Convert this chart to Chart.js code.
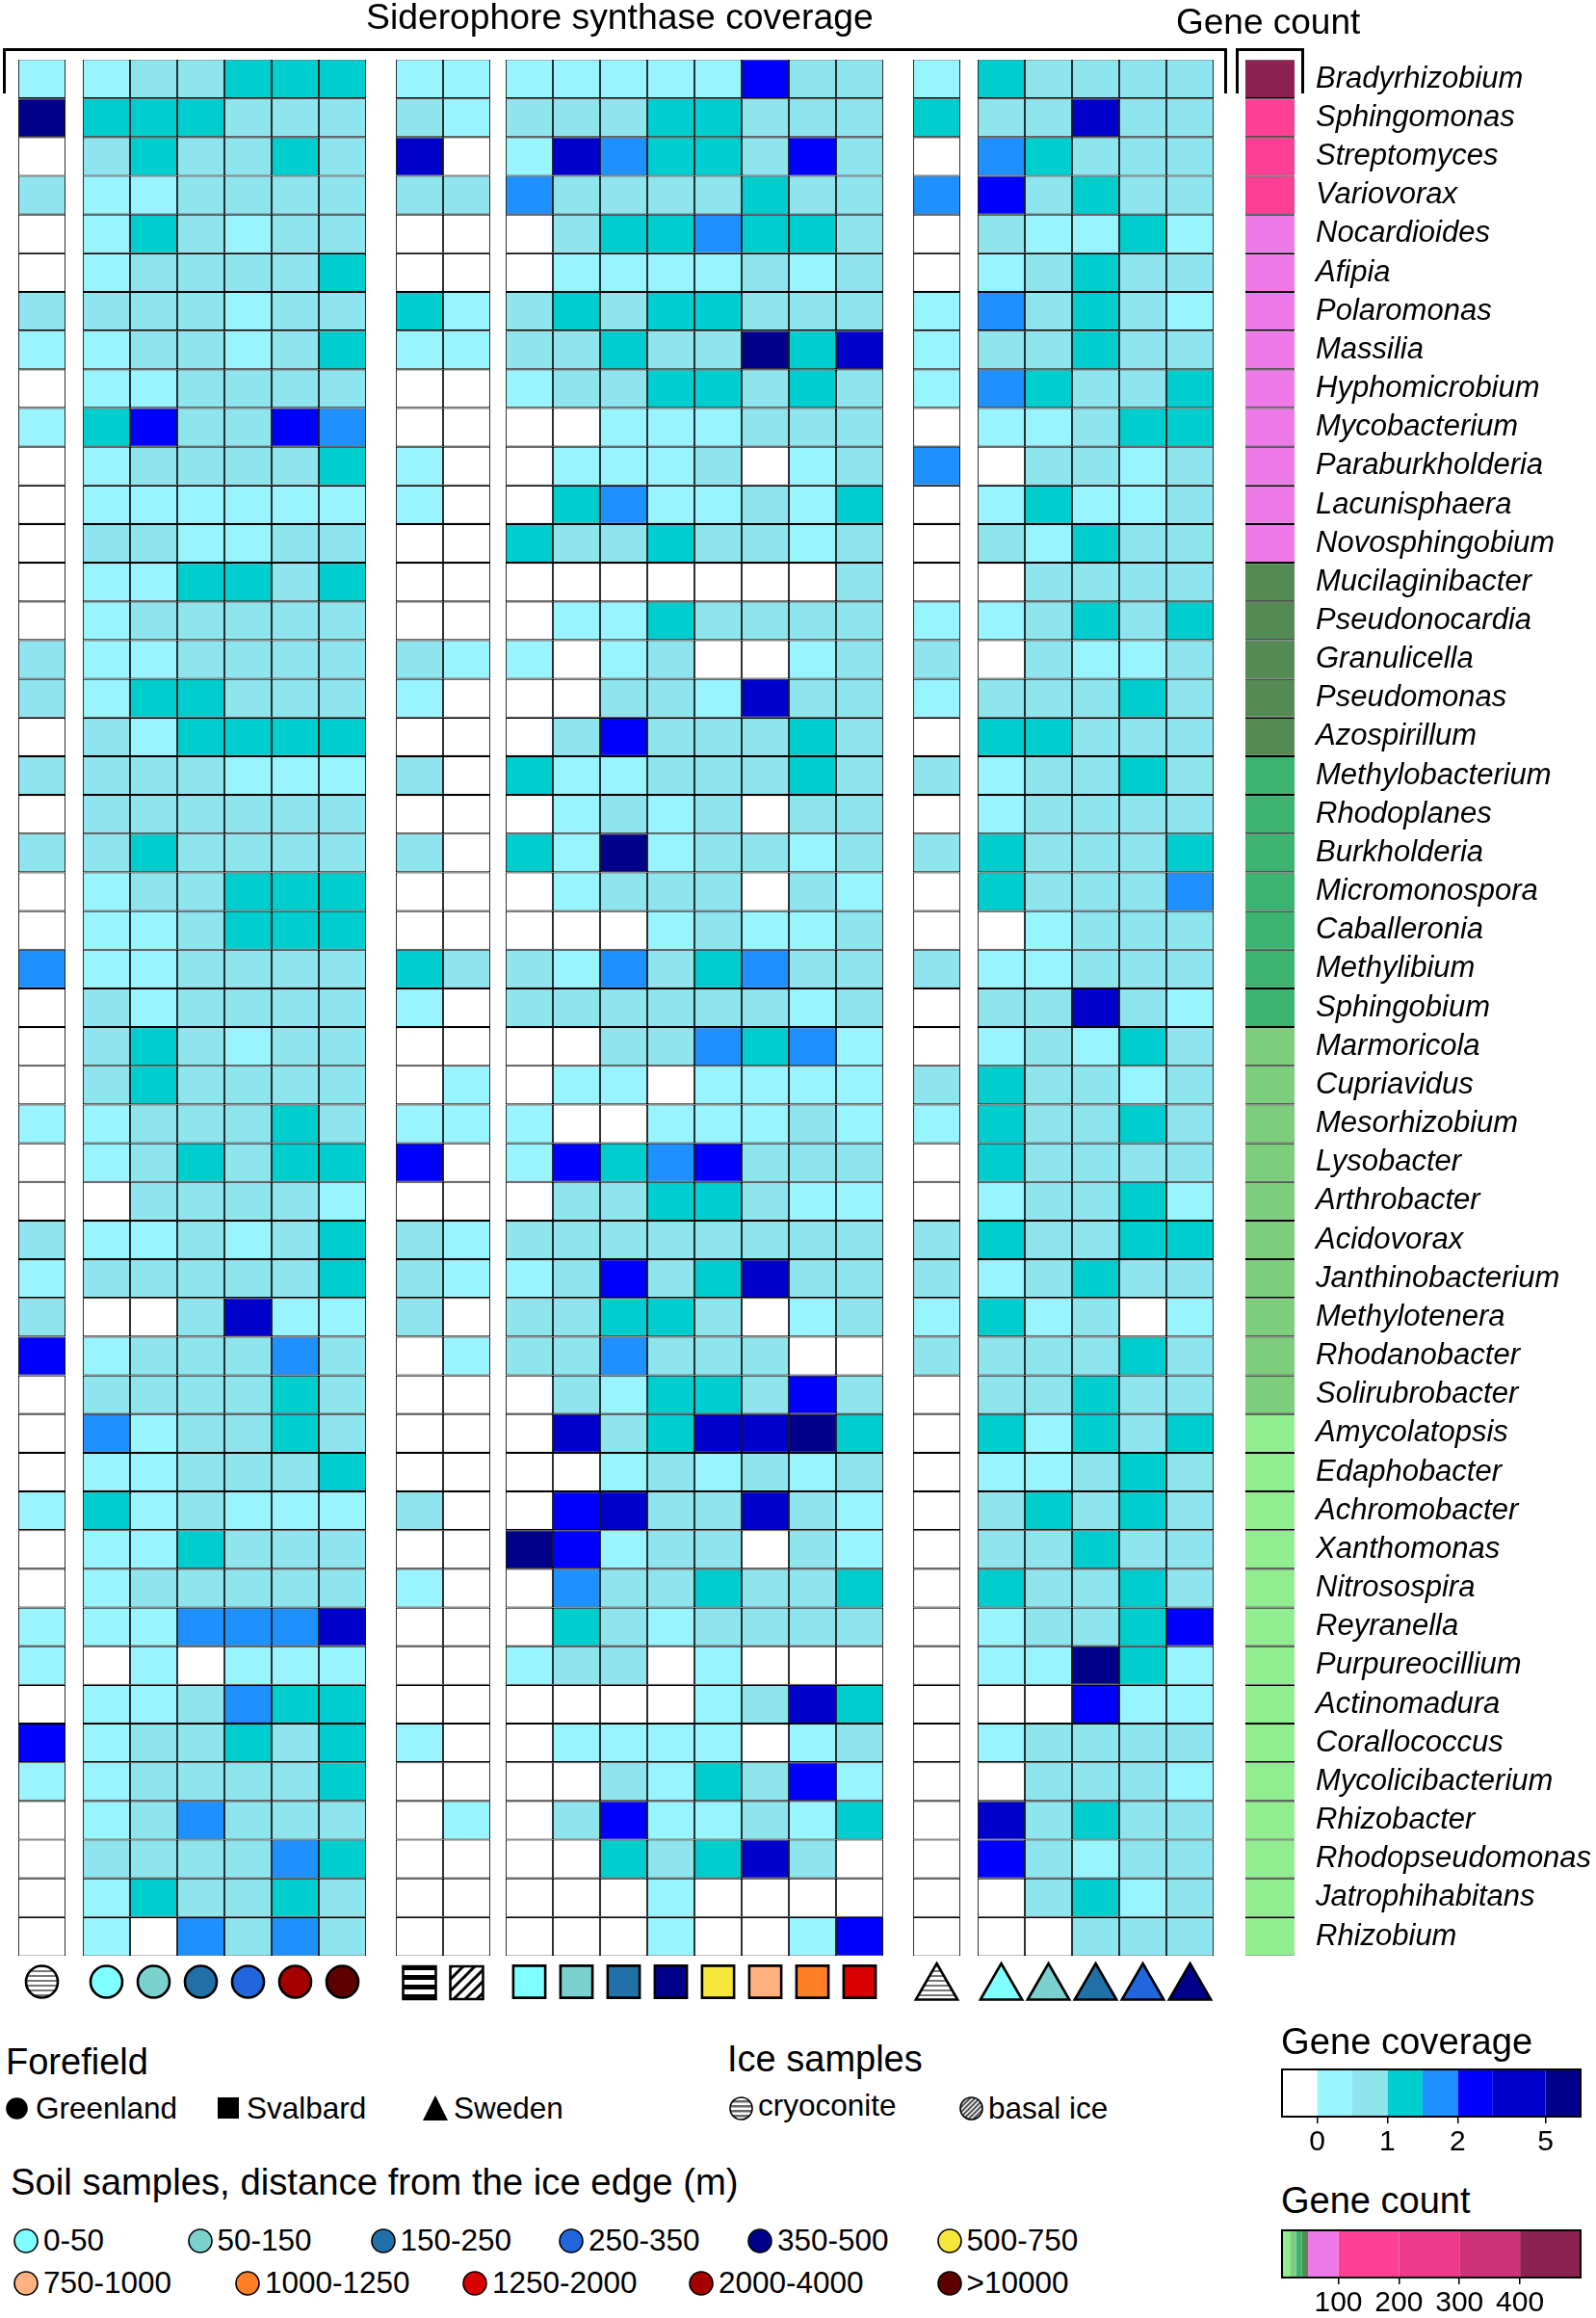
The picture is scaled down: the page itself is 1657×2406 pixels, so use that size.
<!DOCTYPE html>
<html>
<head>
<meta charset="utf-8">
<title>Siderophore synthase coverage</title>
<script src="https://cdn.jsdelivr.net/npm/chart.js@4"></script>
<style>
    html, body { margin: 0; padding: 0; background: #fff; }
    #page { position: relative; width: 1657px; height: 2406px; overflow: hidden; font-family: "Liberation Sans", Arial, sans-serif; color: #000; }
    #page canvas { position: absolute; display: block; }
    .txt { position: absolute; white-space: nowrap; line-height: 1; }
    .bracket { position: absolute; border: 3px solid #000; border-bottom: 0; box-sizing: border-box; }
    .mark { position: absolute; overflow: visible; }
</style>
</head>
<body>
<div id="page">
    <canvas id="heatmap" width="1657" height="2090" style="left:0;top:0"></canvas>
    <canvas id="markers" width="1657" height="70" style="left:0;top:2030px"></canvas>
    <canvas id="coverageBar" width="357" height="100" style="left:1300px;top:2140px"></canvas>
    <canvas id="countBar" width="357" height="100" style="left:1300px;top:2307px"></canvas>
    <div class="bracket" style="left:3px;top:50px;width:1271px;height:47px"></div>
    <div class="bracket" style="left:1283px;top:50px;width:71px;height:47px"></div>
</div>
<script>
// genera, top to bottom
const genera = ["Bradyrhizobium", "Sphingomonas", "Streptomyces", "Variovorax", "Nocardioides", "Afipia", "Polaromonas", "Massilia", "Hyphomicrobium", "Mycobacterium",
    "Paraburkholderia", "Lacunisphaera", "Novosphingobium", "Mucilaginibacter", "Pseudonocardia", "Granulicella", "Pseudomonas", "Azospirillum", "Methylobacterium", "Rhodoplanes",
    "Burkholderia", "Micromonospora", "Caballeronia", "Methylibium", "Sphingobium", "Marmoricola", "Cupriavidus", "Mesorhizobium", "Lysobacter", "Arthrobacter",
    "Acidovorax", "Janthinobacterium", "Methylotenera", "Rhodanobacter", "Solirubrobacter", "Amycolatopsis", "Edaphobacter", "Achromobacter", "Xanthomonas", "Nitrosospira",
    "Reyranella", "Purpureocillium", "Actinomadura", "Corallococcus", "Mycolicibacterium", "Rhizobacter", "Rhodopseudomonas", "Jatrophihabitans", "Rhizobium"];

// coverage class of each cell (0 = none ... 7 = highest), one line per genus
const cryoconiteGreenland = [1, 7, 0, 2, 0, 0, 2, 1, 0, 1, 0, 0, 0, 0, 0, 2, 2, 0, 2, 0, 2, 0, 0, 4, 0, 0, 0, 1, 0, 0, 2, 1, 2, 5, 0, 0, 0, 1, 0, 0, 1, 1, 0, 5, 1, 0, 0, 0, 0];

const soilGreenland = [
    [1,2,2,3,3,3], [3,3,3,2,2,2], [2,3,2,2,3,2], [1,1,2,2,2,2], [1,3,2,1,2,2], [1,2,2,2,2,3], [2,2,2,1,2,2], [1,2,2,1,2,3], [1,1,2,2,2,2], [3,5,2,2,5,4],
    [1,2,2,2,2,3], [1,1,1,1,1,1], [2,2,1,1,2,2], [1,1,3,3,2,3], [1,2,2,2,2,2], [1,1,2,2,2,2], [1,3,3,2,2,2], [2,1,3,3,3,3], [2,2,2,1,1,1], [2,2,2,2,2,2],
    [2,3,2,2,2,2], [1,2,2,3,3,3], [1,1,2,3,3,3], [1,1,2,2,2,2], [2,1,2,2,2,2], [2,3,2,1,2,2], [2,3,2,2,2,2], [1,2,2,2,3,2], [1,2,3,2,3,3], [0,2,2,2,2,1],
    [1,1,2,1,2,3], [2,2,2,2,2,3], [0,0,2,6,1,1], [1,2,2,2,4,2], [2,2,2,2,3,2], [4,1,2,2,3,2], [1,1,2,2,2,3], [3,1,2,1,1,1], [1,1,3,2,2,2], [1,2,2,2,2,2],
    [1,1,4,4,4,6], [0,1,0,1,1,1], [1,1,2,4,3,3], [1,2,2,3,2,3], [1,2,2,2,2,3], [1,2,4,2,2,2], [2,2,2,2,4,3], [1,3,2,2,3,2], [1,0,4,2,4,2]
];

const iceSvalbard = [
    [1,1], [2,1], [6,0], [2,2], [0,0], [0,0], [3,1], [1,1], [0,0], [0,0],
    [1,0], [1,0], [0,0], [0,0], [0,0], [2,1], [1,0], [0,0], [2,0], [0,0],
    [2,0], [0,0], [0,0], [3,2], [1,0], [0,0], [0,1], [1,1], [5,0], [0,0],
    [2,1], [2,1], [2,0], [0,1], [0,0], [0,0], [0,0], [2,0], [0,0], [1,0],
    [0,0], [0,0], [0,0], [1,0], [0,0], [0,1], [0,0], [0,0], [0,0]
];

const soilSvalbard = [
    [1,1,1,1,1,5,2,2], [2,2,2,3,3,2,2,2], [1,6,4,3,3,2,5,2], [4,2,2,2,2,3,2,2], [0,2,3,3,4,3,3,2], [0,1,1,1,1,2,1,2], [2,3,2,3,3,2,2,2], [2,2,3,2,2,7,3,6], [1,2,2,3,3,2,3,2], [0,0,1,1,1,2,2,2],
    [0,1,1,1,2,0,1,2], [0,3,4,1,1,2,1,3], [3,2,2,3,2,2,1,2], [0,0,0,0,0,0,0,2], [0,1,1,3,2,2,2,2], [1,0,1,2,0,0,1,2], [0,0,2,2,1,6,2,2], [0,2,5,2,2,2,3,2], [3,1,1,2,2,2,3,2], [0,1,2,1,2,0,2,2],
    [3,1,7,1,2,2,1,2], [0,1,2,2,2,0,2,1], [0,0,0,1,2,1,1,2], [2,1,4,2,3,4,2,2], [2,2,2,2,2,2,1,2], [0,0,2,2,4,3,4,1], [0,1,1,0,1,1,1,1], [1,0,0,1,1,1,2,1], [1,5,3,4,5,2,2,2], [0,2,2,3,3,2,1,1],
    [2,2,2,2,2,2,2,2], [1,2,5,2,3,6,2,2], [2,2,3,3,2,0,1,2], [2,2,4,2,2,2,0,0], [0,2,1,3,3,2,5,2], [0,6,2,3,6,6,7,3], [0,0,1,2,1,2,1,2], [0,5,6,2,2,6,2,1], [7,5,1,2,2,0,2,1], [0,4,2,2,3,2,2,3],
    [0,3,2,1,2,2,2,2], [1,2,2,0,1,0,0,0], [0,0,0,0,1,2,6,3], [0,1,1,1,1,0,1,2], [0,0,2,1,3,2,5,1], [0,2,5,1,1,2,1,3], [0,0,3,2,3,6,2,0], [0,0,0,1,0,0,0,0], [0,0,0,1,0,0,1,5]
];

const cryoconiteSweden = [1, 3, 0, 4, 0, 0, 1, 1, 1, 0, 4, 0, 0, 0, 1, 2, 1, 0, 2, 0, 2, 0, 0, 2, 0, 0, 2, 1, 0, 0, 2, 2, 1, 2, 0, 0, 0, 0, 0, 0, 0, 0, 0, 0, 0, 0, 0, 0, 0];

const soilSweden = [
    [3,2,2,2,2], [2,2,6,2,2], [4,3,2,2,2], [5,2,3,2,2], [2,1,1,3,1], [1,2,3,2,2], [4,2,3,2,1], [2,2,3,2,2], [4,3,2,2,3], [1,1,2,3,3],
    [0,2,2,1,2], [1,3,1,1,2], [2,1,3,2,2], [0,2,2,2,2], [1,2,3,2,3], [0,2,1,1,2], [2,2,2,3,2], [3,3,2,2,2], [1,2,2,3,2], [1,2,2,2,2],
    [3,2,2,2,3], [3,2,2,2,4], [0,1,2,2,2], [1,1,2,2,2], [2,2,6,2,1], [1,2,1,3,2], [3,2,2,1,2], [3,2,2,3,2], [3,2,2,2,2], [1,2,2,3,1],
    [3,2,2,3,3], [1,2,3,2,2], [3,1,2,0,1], [2,2,2,3,2], [2,2,3,2,2], [3,1,3,2,3], [1,1,2,3,2], [2,3,2,3,2], [2,2,3,2,2], [3,2,2,3,2],
    [1,2,2,3,5], [1,1,7,3,1], [0,0,5,1,1], [1,2,2,2,2], [0,2,2,2,1], [6,2,3,2,2], [5,2,1,2,2], [0,2,3,1,2], [0,0,2,2,2]
];

// estimated gene count per genus, only the colour class can be read
const geneCount = [450, 150, 150, 150, 75, 75, 75, 75, 75, 75, 75, 75, 75, 45, 45, 45, 45, 45, 35, 35, 35, 35, 35, 35, 35, 25, 25, 25, 25, 25, 25, 25, 25, 25, 25, 15, 15, 15, 15, 15, 15, 15, 15, 15, 15, 15, 15, 15, 15];

const coverageColors = ["#FFFFFF", "#98F5FF", "#8EE5EE", "#00CDCD", "#1E90FF", "#0000FF", "#0000CD", "#00008B"];
const coverageEdges = [0, 1, 2, 3, 4, 5, 6, 7.5, 8.5];
const coverageTickPositions = [1, 3, 5, 7.5];
const coverageTickLabels = ["0", "1", "2", "5"];

const countEdges = [7, 20, 30, 40, 50, 100, 200, 300, 400, 500];
const countColors = ["#90EE90", "#7CCD7C", "#3CB371", "#548B54", "#EE7AE9", "#FF3E96", "#EE3A8C", "#CD3278", "#8B2252"];
const countTicks = [100, 200, 300, 400];

const soilLabels = ["0-50", "50-150", "150-250", "250-350", "350-500", "500-750", "750-1000", "1000-1250", "1250-2000", "2000-4000", ">10000"];
const soilColors = ["#7FFFFF", "#7AD1CF", "#2171A8", "#2266DD", "#00008B", "#F4E63A", "#FFB27F", "#FF7F27", "#D80000", "#A50000", "#5C0000"];

const greenlandSoilBins = [0, 1, 2, 3, 9, 10];
const svalbardSoilBins = [0, 1, 2, 4, 5, 6, 7, 8];
const swedenSoilBins = [0, 1, 2, 3, 4];

// layout in page pixels, whole numbers so the vertical lines stay sharp
const cellWidth = 49;
const countCellWidth = 51;
const groupGaps = [18, 31, 16, 31, 18, 33];
const totalUnits = (1344 - 19) / cellWidth;

Chart.defaults.font.family = '"Liberation Sans", Arial, sans-serif';
Chart.defaults.color = "#000";
Chart.defaults.animation = false;

const stripes = makeStripes("#777", 2, 3);
const blackStripes = makeStripes("#000", 5, 5);
const hatch = makeHatch();

function makeStripes(color, bandOn, bandOff) {
    var c = document.createElement("canvas");
    c.width = 4;
    c.height = bandOn + bandOff;
    var g = c.getContext("2d");
    g.fillStyle = "#fff";
    g.fillRect(0, 0, c.width, c.height);
    g.fillStyle = color;
    g.fillRect(0, 0, c.width, bandOn);
    return g.createPattern(c, "repeat");
}

function makeHatch() {
    var c = document.createElement("canvas");
    c.width = 12;
    c.height = 12;
    var g = c.getContext("2d");
    g.fillStyle = "#fff";
    g.fillRect(0, 0, 12, 12);
    g.strokeStyle = "#000";
    g.lineWidth = 3;
    g.beginPath();
    g.moveTo(-3, 3); g.lineTo(3, -3);
    g.moveTo(-3, 15); g.lineTo(15, -3);
    g.moveTo(9, 15); g.lineTo(15, 9);
    g.stroke();
    return g.createPattern(c, "repeat");
}

function pick(rows, i) { return rows.map(function (r) { return r[i]; }); }
function columnsOf(rows, n) {
    var out = [];
    for (var i = 0; i < n; i++) out.push(pick(rows, i));
    return out;
}
const groups = [
    [cryoconiteGreenland],
    columnsOf(soilGreenland, 6),
    columnsOf(iceSvalbard, 2),
    columnsOf(soilSvalbard, 8),
    [cryoconiteSweden],
    columnsOf(soilSweden, 5)
];

function countColor(v) {
    for (var i = 0; i < countColors.length; i++) {
        if (v < countEdges[i + 1]) return countColors[i];
    }
    return countColors[countColors.length - 1];
}

var datasets = [];
var centers = [];
var pos = 0;
function addGap(px) {
    datasets.push({ data: genera.map(function () { return px / cellWidth; }), backgroundColor: "rgba(0,0,0,0)", borderWidth: 0 });
    pos += px / cellWidth;
}
function addColumn(colors, sideBorder, width) {
    datasets.push({
        data: genera.map(function () { return width; }),
        backgroundColor: colors,
        borderColor: "#000",
        borderWidth: function (ctx) {
            return {
                top: ctx.dataIndex === 0 ? 0.5 : 1.1,
                bottom: ctx.dataIndex === genera.length - 1 ? 0.5 : 1.1,
                left: sideBorder,
                right: sideBorder
            };
        }
    });
    centers.push(pos + width / 2);
    pos += width;
}
groups.forEach(function (group, g) {
    if (g > 0) addGap(groupGaps[g - 1]);
    group.forEach(function (col) {
        addColumn(col.map(function (v) { return coverageColors[v]; }), 0.9, 1);
    });
});
addGap(groupGaps[5]);
addColumn(geneCount.map(countColor), 0, countCellWidth / cellWidth);

new Chart(document.getElementById("heatmap"), {
    type: "bar",
    data: { labels: genera, datasets: datasets },
    options: {
        indexAxis: "y",
        responsive: false,
        devicePixelRatio: 1,
        layout: { padding: { left: 19, top: 62, bottom: 60, right: 0 } },
        datasets: { bar: { barPercentage: 1, categoryPercentage: 1, borderSkipped: false, inflateAmount: 0 } },
        plugins: { legend: { display: false }, tooltip: { enabled: false } },
        scales: {
            x: { display: false, stacked: true, min: 0, max: totalUnits },
            y: {
                position: "right",
                stacked: true,
                grid: { display: false, drawTicks: false },
                border: { display: false },
                ticks: { autoSkip: false, padding: 22, color: "#000", font: { size: 31, style: "italic" } },
                afterFit: function (scale) { scale.width = 313; }
            }
        }
    }
});

// sample symbols below the columns
function symbolSet(xs, y, style, radius, fills) {
    return {
        data: xs.map(function (x) { return { x: x, y: y }; }),
        pointStyle: style,
        pointRadius: radius,
        pointBackgroundColor: fills,
        pointBorderColor: "#000",
        pointBorderWidth: 2.6,
        clip: false
    };
}
function soilFill(bin) { return soilColors[bin]; }

new Chart(document.getElementById("markers"), {
    type: "scatter",
    data: {
        datasets: [
            symbolSet(centers.slice(0, 7), 27, "circle", 16.5, [stripes].concat(greenlandSoilBins.map(soilFill))),
            symbolSet(centers.slice(7, 9), 28, "rect", 24, [blackStripes, hatch]),
            symbolSet(centers.slice(9, 17), 27, "rect", 23.5, svalbardSoilBins.map(soilFill)),
            symbolSet(centers.slice(17, 23), 33, "triangle", 25, [stripes].concat(swedenSoilBins.map(soilFill)))
        ]
    },
    options: {
        responsive: false,
        devicePixelRatio: 1,
        layout: { autoPadding: false, padding: { left: 19, right: 313 } },
        plugins: { legend: { display: false }, tooltip: { enabled: false } },
        scales: {
            x: { display: false, min: 0, max: totalUnits },
            y: { display: false, reverse: true, min: 0, max: 70 }
        }
    }
});

// outline round a colour bar
const barFrame = {
    id: "barFrame",
    afterDatasetsDraw: function (chart) {
        var a = chart.chartArea, g = chart.ctx;
        g.save();
        g.strokeStyle = "#000";
        g.lineWidth = 2;
        g.strokeRect(a.left, a.top, a.right - a.left, a.bottom - a.top);
        g.restore();
    }
};

function colorBar(id, edges, colors, xScale) {
    var sets = colors.map(function (c, i) {
        return { data: [[edges[i], edges[i + 1]]], backgroundColor: c, borderWidth: 0 };
    });
    return new Chart(document.getElementById(id), {
        type: "bar",
        data: { labels: [""], datasets: sets },
        options: {
            indexAxis: "y",
            responsive: false,
            devicePixelRatio: 1,
            layout: { padding: { left: 31, right: 16, top: 8, bottom: 0 } },
            datasets: { bar: { grouped: false, barPercentage: 1, categoryPercentage: 1, inflateAmount: 0 } },
            plugins: { legend: { display: false }, tooltip: { enabled: false } },
            scales: { x: xScale, y: { display: false } }
        },
        plugins: [barFrame]
    });
}

function barAxis(min, max, positions, labels) {
    return {
        min: min,
        max: max,
        grid: { drawOnChartArea: false, drawTicks: true, tickLength: 7, color: "#000", lineWidth: 1.5 },
        border: { display: false },
        afterBuildTicks: function (scale) {
            scale.ticks = positions.map(function (v) { return { value: v }; });
        },
        afterFit: function (scale) { scale.height = 43; },
        ticks: {
            maxRotation: 0,
            autoSkip: false,
            padding: 2,
            color: "#000",
            font: { size: 30 },
            callback: function (v) {
                var i = positions.indexOf(v);
                return labels[i];
            }
        }
    };
}

colorBar("coverageBar", coverageEdges, coverageColors, barAxis(0, 8.5, coverageTickPositions, coverageTickLabels));
colorBar("countBar", countEdges, countColors, barAxis(7, 500, countTicks, countTicks.map(String)));

// titles and legends are plain text on the page
var page = document.getElementById("page");
function addText(text, x, baseline, size) {
    var d = document.createElement("div");
    d.className = "txt";
    d.textContent = text;
    d.style.left = x + "px";
    d.style.top = (baseline - 0.8465 * size) + "px";
    d.style.fontSize = size + "px";
    page.appendChild(d);
}
function addMark(shape, cx, cy, r, fill) {
    var ns = "http://www.w3.org/2000/svg";
    var s = document.createElementNS(ns, "svg");
    s.setAttribute("class", "mark");
    s.setAttribute("width", r * 2 + 4);
    s.setAttribute("height", r * 2 + 4);
    s.style.left = (cx - r - 2) + "px";
    s.style.top = (cy - r - 2) + "px";
    var c = r + 2;
    var inner;
    if (shape === "circle") {
        s.innerHTML = '<circle cx="' + c + '" cy="' + c + '" r="' + r + '" fill="' + fill + '" stroke="#000" stroke-width="1.6"/>';
    } else if (shape === "square") {
        s.innerHTML = '<rect x="2" y="2" width="' + r * 2 + '" height="' + r * 2 + '" fill="#000"/>';
    } else if (shape === "triangle") {
        s.innerHTML = '<polygon points="' + c + ',2 ' + (r * 2 + 2) + ',' + (r * 2 + 2) + ' 2,' + (r * 2 + 2) + '" fill="#000"/>';
    } else if (shape === "stripes") {
        inner = '<clipPath id="clipS"><circle cx="' + c + '" cy="' + c + '" r="' + r + '"/></clipPath><g clip-path="url(#clipS)"><rect width="40" height="40" fill="#fff"/>';
        for (var y = 0; y < 30; y += 5) inner += '<rect x="0" y="' + y + '" width="40" height="2.5" fill="#666"/>';
        s.innerHTML = inner + '</g><circle cx="' + c + '" cy="' + c + '" r="' + r + '" fill="none" stroke="#000" stroke-width="1.6"/>';
    } else {
        inner = '<clipPath id="clipH"><circle cx="' + c + '" cy="' + c + '" r="' + r + '"/></clipPath><g clip-path="url(#clipH)"><rect width="40" height="40" fill="#fff"/>';
        for (var k = -30; k < 40; k += 5) inner += '<line x1="' + k + '" y1="30" x2="' + (k + 30) + '" y2="0" stroke="#555" stroke-width="2.2"/>';
        s.innerHTML = inner + '</g><circle cx="' + c + '" cy="' + c + '" r="' + r + '" fill="none" stroke="#000" stroke-width="1.6"/>';
    }
    page.appendChild(s);
}

addText("Siderophore synthase coverage", 380, 31, 37.3);
addText("Gene count", 1221, 35, 37);
addText("Forefield", 6, 2153, 38);
addText("Ice samples", 755, 2150, 38);
addText("Soil samples, distance from the ice edge (m)", 11, 2278, 38.3);
addText("Gene coverage", 1330, 2132, 38.2);
addText("Gene count", 1330, 2297, 38);

addMark("circle", 17.5, 2188, 10.5, "#000");
addText("Greenland", 37, 2200, 31.5);
addMark("square", 236.5, 2188, 11, "#000");
addText("Svalbard", 256, 2200, 31.5);
addMark("triangle", 451.5, 2188, 13, "#000");
addText("Sweden", 471, 2200, 31.5);
addMark("stripes", 769, 2188, 11.5);
addText("cryoconite", 787, 2197, 31.5);
addMark("hatch", 1008.5, 2188, 11.5);
addText("basal ice", 1026, 2200, 31.5);

const soilLegendX = [27, 207.5, 397.5, 593, 789, 985.6, 27, 257, 493, 728, 985.6];
const soilLegendRow = [0, 0, 0, 0, 0, 0, 1, 1, 1, 1, 1];
const soilRowY = [2326, 2370];
soilLabels.forEach(function (label, i) {
    var y = soilRowY[soilLegendRow[i]];
    addMark("circle", soilLegendX[i], y, 12, soilColors[i]);
    addText(label, soilLegendX[i] + 18, y + 11, 31.5);
});
</script>
</body>
</html>
